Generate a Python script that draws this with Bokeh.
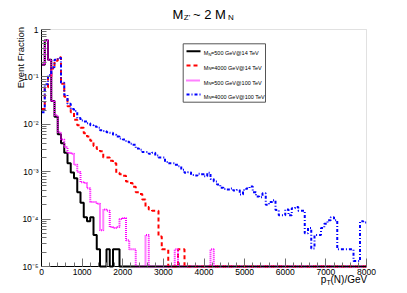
import numpy as np
from bokeh.plotting import figure
from bokeh.models import (Range1d, FixedTicker, CustomJSTickFormatter, Label, BoxAnnotation)
from bokeh.embed import file_html
from bokeh.resources import INLINE

# ---------------- data (80 GeV bins, 0-8000 GeV) ----------------
bin_edges = list(range(0, 8001, 80))

black_500_14 = [0.18, 0.59, 0.23, 0.031, 0.0145, 0.0062, 0.004, 0.0025, 0.0015, 0.00096,
                0.00073, 0.00037, 0.00022, 0.00011, 0.00009, 0.00011, 0.000046, 0.000023, 0, 0,
                0.000023, 0, 0.000023, 0.000023] + [0] * 76

red_4000_14 = [0.021, 0.06, 0.10, 0.15, 0.22, 0.26, 0.072, 0.038, 0.024, 0.018,
               0.0125, 0.0095, 0.0085, 0.0065, 0.0055, 0.0045, 0.0035, 0.003, 0.0027, 0.002,
               0.002, 0.0017, 0.0015, 0.00095, 0.00088, 0.00082, 0.00062, 0.00058, 0.00048, 0.00037,
               0.00034, 0.00026, 0.00018, 0.00016, 0.00015, 0.00015, 0.000043, 0.000023, 0.000023, 0,
               0, 0, 0.000023, 0.000023] + [0] * 56

magenta_500_100 = [0.18, 0.59, 0.23, 0.031, 0.0155, 0.0068, 0.0048, 0.0033, 0.0025, 0.0024,
                   0.0014, 0.00099, 0.0006, 0.00058, 0.00045, 0.00023, 0.00023, 0.00021, 0.000058, 0.00016,
                   0.00015, 0.000068, 0.000065, 0.000068, 0.0001, 0.000105, 0.000036, 0.000023, 0.000023, 0,
                   0, 0, 0.000046, 0, 0, 0, 0, 0, 0, 0,
                   0, 0.000023, 0, 0, 0, 0, 0, 0, 0, 0,
                   0, 0, 0.000023] + [0] * 47

blue_4000_100 = [0.018, 0.07, 0.11, 0.16, 0.23, 0.25, 0.075, 0.042, 0.027, 0.021,
                 0.019, 0.0135, 0.012, 0.0115, 0.0105, 0.0095, 0.009, 0.0085, 0.0075, 0.0072,
                 0.0068, 0.0066, 0.006, 0.0055, 0.005, 0.0048, 0.0043, 0.0039, 0.0037, 0.0031,
                 0.0029, 0.0026, 0.0026, 0.0024, 0.0025, 0.0022, 0.002, 0.002, 0.0016, 0.0015,
                 0.0015, 0.0014, 0.0013, 0.0011, 0.00095, 0.00097, 0.00085, 0.00083, 0.0009, 0.00088,
                 0.0008, 0.00095, 0.0007, 0.00062, 0.00054, 0.00046, 0.00043, 0.00042, 0.00044, 0.0004,
                 0.00041, 0.00033, 0.00041, 0.00044, 0.00049, 0.00037, 0.0003, 0.00029, 0.00035, 0.0002,
                 0.00023, 0.00025, 0.000155, 0.00012, 0.00012, 0.00016, 0.00012, 0.00017, 0.00018, 0.00015,
                 0.00015, 0.00005, 0.000065, 0.000024, 0.000046, 0.000046, 0.000065, 0.00008, 0.000095, 0.00011,
                 0.000095, 0.000023, 0.000023, 0.000023, 0.000023, 0.000023, 0.000013, 0.000013, 0.00009, 0.000085]

series_labels = ["=500 GeV@14 TeV", "=4000 GeV@14 TeV", "=500 GeV@100 TeV", "=4000 GeV@100 TeV"]
x_ticks = list(range(0, 8001, 1000))
y_ticks = [1e-5, 1e-4, 1e-3, 1e-2, 1e-1, 1.0]

# ---------------- geometry ----------------
W, H = 399, 285
FL, FR, FT, FB = 41.0, 366.0, 29.0, 266.0   # data box edges in canvas pixels
XMIN, XMAX, YMIN, YMAX = 0, 8000, 1e-5, 1.0
LLO, LHI = np.log10(YMIN), np.log10(YMAX)

def px2x(px):
    return XMIN + (px - FL) / (FR - FL) * (XMAX - XMIN)

def py2y(py):
    return float(10 ** (LHI - (py - FT) / (FB - FT) * (LHI - LLO)))

# the plotting frame covers the whole canvas; axes are pinned to the data box
p = figure(width=W, height=H, output_backend="svg", toolbar_location=None,
           y_axis_type="log", x_range=Range1d(px2x(0), px2x(W)),
           y_range=Range1d(py2y(H), py2y(0)), title=None)
p.min_border = 0
p.background_fill_color = "white"
p.border_fill_color = "white"
p.outline_line_color = None
p.xgrid.visible = False
p.ygrid.visible = False

FONT = "Liberation Sans"
p.xaxis.ticker = FixedTicker(ticks=x_ticks, minor_ticks=list(range(0, 8001, 200)))
minor_y = [m * 10.0 ** e for e in range(-5, 0) for m in range(2, 10)]
p.yaxis.ticker = FixedTicker(ticks=y_ticks, minor_ticks=minor_y)
p.yaxis.formatter = CustomJSTickFormatter(code="""
if (tick >= 0.999) return "1";
const e = Math.round(Math.log10(tick));
const sup = {"-":"\u207b","0":"\u2070","1":"\u00b9","2":"\u00b2","3":"\u00b3","4":"\u2074","5":"\u2075","6":"\u2076","7":"\u2077","8":"\u2078","9":"\u2079"};
return "10" + String(e).split("").map(c => sup[c]).join("");
""")
p.xaxis.fixed_location = YMIN
p.yaxis.fixed_location = XMIN
p.xaxis.bounds = (XMIN, XMAX)
p.yaxis.bounds = (YMIN, YMAX)
for ax, tin, min_in in ((p.xaxis, 8, 4), (p.yaxis, 9, 5)):
    ax.major_tick_in = tin
    ax.major_tick_out = 0
    ax.minor_tick_in = min_in
    ax.minor_tick_out = 0
    ax.major_tick_line_color = "#707070"
    ax.minor_tick_line_color = "#707070"
    ax.axis_line_color = "black"
    ax.major_label_text_font = FONT
    ax.major_label_text_font_size = "8.5px"
    ax.major_label_text_color = "black"
p.xaxis.major_label_standoff = 2
p.yaxis.major_label_standoff = 3

# frame box (grey top/right edges) and legend box
p.add_layout(BoxAnnotation(left=XMIN, right=XMAX, bottom=YMIN, top=YMAX, fill_alpha=0,
                           line_color="#9a9a9a", line_width=1, level="underlay"))
p.add_layout(BoxAnnotation(left=px2x(182.7), right=px2x(265), top=py2y(43.3), bottom=py2y(101.7),
                           fill_color="white", fill_alpha=1.0, line_color="#555555",
                           line_width=1, line_alpha=1.0, level="underlay"))

# ---------------- histograms ----------------
def stepy(vals):
    v = [max(float(a), YMIN) for a in vals]
    return v + [v[-1]]

styles = [
    (black_500_14, "black", None),
    (red_4000_14, "#ff0000", "4 3"),
    (magenta_500_100, "#ff00ff", "1 1"),
    (blue_4000_100, "#0000ff", "3 2 1 2"),
]
for vals, col, dash in styles:
    kw = dict(line_color=col, line_width=2)
    if dash:
        kw["line_dash"] = dash
    p.step(bin_edges, stepy(vals), mode="after", **kw)

def lab(text, px, py, size, align="left", angle=0.0):
    p.add_layout(Label(x=px2x(px), y=py2y(py), text=text, text_font=FONT,
                       text_font_size=f"{size}px", text_align=align, angle=angle,
                       text_baseline="alphabetic", text_color="black"))

# title  M_{Z'} ~ 2 M_{N}
lab("M", 172, 13.5, 13)
lab("Z'", 183.3, 16.5, 8)
lab("~ 2 M", 192.5, 13.5, 13)
lab("N", 227.5, 16.5, 8)

# y title
lab("Event Fraction", 20, 26.5, 9.5, align="right", angle=np.pi / 2)

# x title p_T(N)/GeV
lab("(N)/GeV", 366.7, 279.3, 10, align="right")
lab("T", 330.2, 281.5, 7, align="right")
lab("p", 325.9, 279.3, 10, align="right")

# ---------------- legend entries ----------------
rows = [50.7, 65.0, 80.0, 94.0]
for (vals, col, dash), text, ry in zip(styles, series_labels, rows):
    kw = dict(line_color=col, line_width=2)
    if dash:
        kw["line_dash"] = dash
    p.line([px2x(186), px2x(200)], [py2y(ry), py2y(ry)], **kw)
    lab("M", 203.3, ry + 2, 5.5)
    lab("N", 207.9, ry + 3.3, 4)
    lab(text, 210.6, ry + 2, 5.5)

open("out.html", "w").write(file_html(p, INLINE))
